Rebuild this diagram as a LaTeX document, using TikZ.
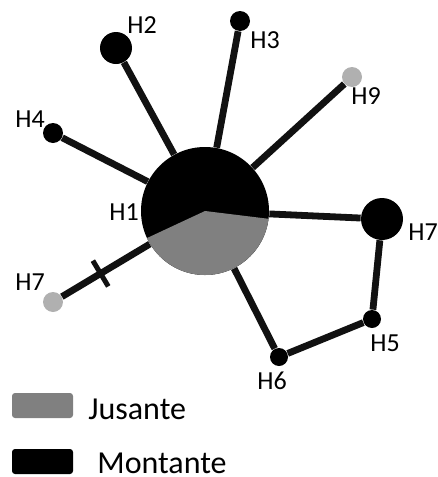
\documentclass[tikz,border=0pt]{standalone}
\usepackage{fontspec}
\setmainfont{Carlito}
\usetikzlibrary{calc}

\definecolor{jusgray}{RGB}{128,128,128}
\definecolor{lightnode}{RGB}{176,176,176}
\definecolor{linecol}{RGB}{17,17,17}

\begin{document}
\begin{tikzpicture}[x=0.5pt, y=-0.5pt,
  hap/.style    ={circle, fill=black, inner sep=0pt, minimum size=10pt},
  haplight/.style={hap, fill=lightnode},
  lab/.style    ={font=\fontsize{13}{15}\selectfont, inner sep=0pt},
  edge/.style   ={line width=3.4pt, draw=linecol},
  legbox/.style ={rounded corners=1.5pt, minimum width=30.5pt, minimum height=12.5pt, inner sep=0pt},
  legtext/.style={font=\fontsize{16}{19}\selectfont, anchor=west, inner sep=0pt}
]
\useasboundingbox (0,0) rectangle (438,477);

%%% ---- HAPLOTYPES -------------------------------------------------------
\node[circle, minimum size=64pt, inner sep=0pt] (h1) at (205,211) {};
\node[hap, minimum size=16pt] (h2)  at (116, 48) {};
\node[hap]                    (h3)  at (240, 21) {};
\node[hap]                    (h4)  at ( 53,133) {};
\node[haplight]               (h9)  at (352, 77) {};
\node[hap, minimum size=21pt] (h7b) at (382,219) {};
\node[hap, minimum size=9pt]  (h5)  at (372,319) {};
\node[hap, minimum size=9pt]  (h6)  at (279,357) {};
\node[haplight]               (h7a) at ( 53,302) {};

% Labels
\node[lab] (lh1)  at (124,212) {H1};
\node[lab] (lh2)  at (142, 25) {H2};
\node[lab] (lh3)  at (265, 40) {H3};
\node[lab] (lh4)  at ( 30,119) {H4};
\node[lab] (lh9)  at (366, 96) {H9};
\node[lab] (lh7b) at (423,232) {H7};
\node[lab] (lh5)  at (385,343) {H5};
\node[lab] (lh6)  at (272,381) {H6};
\node[lab] (lh7a) at ( 30,282) {H7};

%%% ---- LINKS ------------------------------------------------------------
\draw[edge] (h1) -- (h2);
\draw[edge] (h1) -- (h3);
\draw[edge] (h1) -- (h4);
\draw[edge] (h1) -- (h9);
\draw[edge] (h1) -- (h7b);
\draw[edge] (h1) -- (h6);
\draw[edge] (h1) -- (h7a);
\draw[edge] (h7b) -- (h5);
\draw[edge] (h5) -- (h6);

% mutation tick on the H7 branch
\path (h7a) -- (h1) coordinate[pos=0.44] (cut);
\draw[line width=2.5pt, linecol] ($(cut)!7.5pt!90:(h1)$) -- ($(cut)!7.5pt!-90:(h1)$);

% H1 pie: Montante (black) / Jusante (gray)
\fill[black] (h1.center) circle[radius=32pt];
\fill[jusgray] (h1.center) -- ++(205:32pt) arc[start angle=205, end angle=353, radius=32pt] -- cycle;

%%% ---- LEGEND -----------------------------------------------------------
\node[legbox, fill=jusgray] (kjus) at (42.5,405.5) {};
\node[legtext]              (tjus) at (88,409)     {Jusante};
\node[legbox, fill=black]   (kmon) at (42.5,461.5) {};
\node[legtext]              (tmon) at (97,463)     {Montante};

\end{tikzpicture}
\end{document}
